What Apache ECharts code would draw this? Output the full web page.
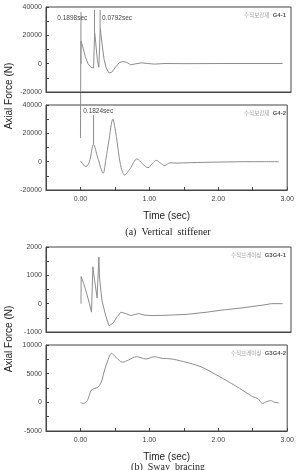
<!DOCTYPE html>
<html lang="ko">

<head>
  <meta charset="UTF-8">
  <title>Axial force - stiffener / sway bracing</title>
  <style>
    * {
      margin: 0;
      padding: 0;
    }

    body {
      background-color: #fff;
    }

    #chart {
      width: 297px;
      height: 470px;
    }
  </style>
</head>

<body>
  <div id="chart"></div>
  <script src="https://cdn.jsdelivr.net/npm/echarts@6/dist/echarts.min.js"></script>
  <script>
    // [time (sec), axial force (N)]
    const stiffenerG41 = [
      [0, 0], [0.001, 16000], [0.03, 11000], [0.06, 5000], [0.1, 0], [0.14, -2500], [0.18, -3000],
      [0.19, -3000], [0.195, 22000], [0.21, 15000], [0.235, 2000], [0.255, -2500], [0.262, -2500],
      [0.275, 25000], [0.3, 14000], [0.33, 3000], [0.36, -3000], [0.4, -6600], [0.44, -6000],
      [0.5, -2000], [0.55, 800], [0.6, 1500], [0.65, 1000], [0.71, -800], [0.77, -200], [0.87, 600],
      [0.95, 100], [1.05, -300], [1.2, 100], [1.5, 0], [2.0, 100], [2.5, 100], [2.88, 100]
    ]
    const stiffenerG42 = [
      [0, 500], [0.08, -3500], [0.13, 0], [0.19, 12200], [0.25, 3000], [0.33, -8200], [0.37, 2000],
      [0.41, 14000], [0.47, 30000], [0.52, 18000], [0.58, -2000], [0.64, -9400], [0.72, -5000],
      [0.82, 2000], [0.9, -1500], [0.98, -4300], [1.04, -1500], [1.1, 1000], [1.16, -1000],
      [1.22, -2800], [1.3, -800], [1.4, -1000], [1.6, -700], [2.0, -300], [2.5, 0], [2.88, 0]
    ]
    const bracingG3G41 = [
      [0, 0], [0.002, 960], [0.04, 700], [0.08, 370], [0.12, 0], [0.15, -300], [0.165, -300],
      [0.17, 1300], [0.19, 900], [0.23, 200], [0.245, 200], [0.255, 1650], [0.265, 900], [0.3, 100],
      [0.35, -400], [0.4, -780], [0.46, -680], [0.52, -450], [0.57, -300], [0.64, -350], [0.71, -420],
      [0.77, -380], [0.83, -350], [0.9, -400], [1.0, -420], [1.2, -410], [1.5, -380], [1.8, -300],
      [2.0, -230], [2.3, -150], [2.6, -50], [2.72, 0], [2.88, 0]
    ]
    const bracingG3G42 = [
      [0, 0], [0.04, -200], [0.1, 300], [0.16, 2150], [0.26, 2700], [0.31, 3800], [0.35, 5640],
      [0.4, 7400], [0.45, 8550], [0.52, 7800], [0.61, 6990], [0.7, 7400], [0.81, 7970], [0.95, 7560],
      [1.07, 7950], [1.2, 7650], [1.3, 7600], [1.5, 7100], [1.75, 6200], [2.0, 4600], [2.25, 2870],
      [2.5, 1000], [2.58, 600], [2.64, -200], [2.7, 100], [2.76, 300], [2.82, 0], [2.88, -100]
    ]

    const yRanges = [[-20000, 40000, 20000], [-20000, 40000, 20000], [-1000, 2000, 1000], [-5000, 10000, 5000]]
    const panelNames = [['수직보강재', 'G4-1'], ['수직보강재', 'G4-2'], ['수직브레이싱', 'G3G4-1'], ['수직브레이싱', 'G3G4-2']]
    const peakLabels = ['0.1898sec', '0.0792sec', '0.1824sec']

    const seriesData = [stiffenerG41, stiffenerG42, bracingG3G41, bracingG3G42]
    const gridBoxes = [
      { left: 46, top: 7, width: 245, height: 85 },
      { left: 46, top: 105, width: 245, height: 85 },
      { left: 46, top: 247, width: 245, height: 85 },
      { left: 46, top: 345, width: 245, height: 86 }
    ]
    const frame = '#444'
    const sans = 'Liberation Sans'

    const chart = echarts.init(document.querySelector('#chart'), null, { renderer: 'canvas' })

    const options = {
      animation: false,
      grid: gridBoxes.map(g => Object.assign({ show: true, borderColor: frame, borderWidth: 1 }, g)),
      xAxis: gridBoxes.map((g, i) => {
        const labelled = i === 1 || i === 3
        return {
          type: 'value',
          gridIndex: i,
          min: -0.5,
          max: 3,
          interval: 0.5,
          name: labelled ? 'Time (sec)' : '',
          nameLocation: 'middle',
          nameGap: 21,
          nameTextStyle: { fontFamily: sans, fontSize: 10, color: '#222' },
          axisLine: { show: true, onZero: false, lineStyle: { color: frame } },
          axisTick: { show: labelled, inside: true, length: 3, lineStyle: { color: frame } },
          axisLabel: {
            show: labelled,
            fontFamily: sans,
            fontSize: 7,
            color: '#444',
            margin: 6,
            formatter: v => (Math.abs(v % 1) < 1e-9 && v >= 0 ? v.toFixed(2) : '')
          },
          splitLine: { show: false }
        }
      }),
      yAxis: yRanges.map((r, i) => ({
        type: 'value',
        gridIndex: i,
        min: r[0],
        max: r[1],
        interval: r[2],
        axisLine: { show: true, onZero: false, lineStyle: { color: frame } },
        axisTick: { show: true, inside: true, length: 3, lineStyle: { color: frame } },
        minorTick: { show: true, splitNumber: 2, length: 3, lineStyle: { color: frame } },
        axisLabel: { fontFamily: sans, fontSize: 7, color: '#444', margin: 4, formatter: v => String(v) },
        splitLine: { show: false }
      })),
      series: seriesData.map((d, i) => ({
        type: 'line',
        xAxisIndex: i,
        yAxisIndex: i,
        data: d,
        showSymbol: false,
        smooth: i === 1 || i === 3 ? 0.3 : false,
        lineStyle: { color: '#8c8c8c', width: 1 }
      }))
    }

    chart.setOption(options)

    // annotation lines / labels placed through the axes
    const px = (i, p) => chart.convertToPixel({ gridIndex: i }, p)
    const vline = (a, b) => ({
      type: 'line',
      shape: { x1: a[0], y1: a[1], x2: b[0], y2: b[1] },
      style: { stroke: '#8c8c8c', lineWidth: 1 },
      silent: true
    })
    const text = (p, str, align, extra) => ({
      type: 'text',
      x: p[0],
      y: p[1],
      style: Object.assign({
        text: str, align: align, verticalAlign: 'middle',
        fontFamily: sans, fontSize: 6.5, fill: '#444'
      }, extra || {}),
      silent: true
    })

    const graphics = [
      vline(px(0, [0, 36500]), px(1, [0, 16700])),
      vline(px(0, [0.193, 37900]), px(0, [0.193, 22000])),
      vline(px(0, [0.273, 37900]), px(0, [0.273, 25000])),
      vline(px(1, [0.19, 32900]), px(1, [0.19, 12200])),
      text(px(0, [0.09, 32200]), peakLabels[0], 'right'),
      text(px(0, [0.3, 32200]), peakLabels[1], 'left'),
      text(px(1, [0.04, 35800]), peakLabels[2], 'left')
    ]

    // panel names, top right corner of each frame
    gridBoxes.forEach((g, i) => {
      graphics.push({
        type: 'text',
        x: g.left + g.width - 5,
        y: g.top + 8,
        style: {
          text: '{a|' + panelNames[i][0] + '} {b|' + panelNames[i][1] + '}',
          align: 'right',
          verticalAlign: 'middle',
          rich: {
            a: { fontFamily: 'Noto Sans CJK KR', fontSize: 5.5, fill: '#999' },
            b: { fontFamily: sans, fontSize: 6, fill: '#555', fontWeight: 'bold' }
          }
        },
        silent: true
      })
    })

    // shared y-axis names and captions
    const axisName = y => ({
      type: 'text',
      x: 9,
      y: y,
      rotation: Math.PI / 2,
      style: {
        text: 'Axial Force (N)', align: 'center', verticalAlign: 'middle',
        fontFamily: sans, fontSize: 10, fill: '#222'
      },
      silent: true
    })
    graphics.push(axisName(96), axisName(339))
    graphics.push(
      text([168, 232], '(a)  Vertical  stiffener', 'center', { fontFamily: 'Liberation Serif', fontSize: 10, fill: '#222' }),
      text([168, 467], '(b)  Sway  bracing', 'center', { fontFamily: 'Liberation Serif', fontSize: 10, fill: '#222' })
    )

    chart.setOption({ graphic: graphics })
  </script>
</body>

</html>
